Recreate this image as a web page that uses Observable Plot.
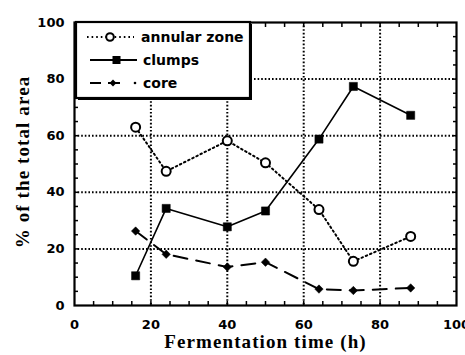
<!DOCTYPE html>
<html>
<head>
<meta charset="utf-8">
<script src="https://cdn.jsdelivr.net/npm/d3@7"></script>
<script src="https://cdn.jsdelivr.net/npm/@observablehq/plot@0.6"></script>
<style>
  body { margin: 0; background: white; }
  #wrap { position: relative; width: 465px; height: 355px; }
  #legend { position: absolute; left: 0; top: 0; }
  .axtitle text { letter-spacing: 1.1px; }
</style>
</head>
<body>
<div id="wrap"></div>
<script>
// ---- data ----
const hours   = [16, 24, 40, 50, 64, 73, 88];
const annular = [63, 47.4, 58.2, 50.4, 33.9, 15.6, 24.4];
const clumps  = [10.5, 34.3, 27.8, 33.4, 58.8, 77.4, 67.2];
const core    = [26.3, 18.1, 13.6, 15.3, 5.8, 5.3, 6.2];
const seriesNames = ["annular zone", "clumps", "core"];
const majorTicks = [0, 20, 40, 60, 80, 100];
const gridTicks = [20, 40, 60, 80];
const minorTicks = d3.range(5, 100, 5);
const xTitle = "Fermentation time (h)";
const yTitle = "% of the total area";

const rows = (vals) => hours.map((h, i) => ({h, v: vals[i]}));
const A = rows(annular), C = rows(clumps), K = rows(core);

const tickFont = "DejaVu Sans";
const titleFont = "Liberation Serif";
const blank = () => "";

const chart = Plot.plot({
  width: 465, height: 355,
  marginLeft: 74, marginRight: 9, marginTop: 22, marginBottom: 50,
  x: {domain: [0, 100]},
  y: {domain: [0, 100]},
  style: {background: "white", color: "black", overflow: "visible"},
  marks: [
    Plot.ruleX(gridTicks, {stroke: "black", strokeWidth: 2, strokeDasharray: "1.6,2"}),
    Plot.ruleY(gridTicks, {stroke: "black", strokeWidth: 2, strokeDasharray: "1.6,2"}),
    Plot.axisX(minorTicks, {anchor: "bottom", tickSize: -4, tickFormat: blank, label: null, strokeWidth: 1.5}),
    Plot.axisX(minorTicks, {anchor: "top", tickSize: -4, tickFormat: blank, label: null, strokeWidth: 1.5}),
    Plot.axisY(minorTicks, {anchor: "left", tickSize: -4, tickFormat: blank, label: null, strokeWidth: 1.5}),
    Plot.axisY(minorTicks, {anchor: "right", tickSize: -4, tickFormat: blank, label: null, strokeWidth: 1.5}),
    Plot.axisX(majorTicks, {anchor: "bottom", tickSize: 0, tickPadding: 14, label: null,
      fontSize: 13, fontWeight: "bold", fontFamily: tickFont}),
    Plot.axisY(majorTicks, {anchor: "left", tickSize: 0, tickPadding: 10, label: null,
      fontSize: 13, fontWeight: "bold", fontFamily: tickFont}),
    Plot.frame({stroke: "black", strokeWidth: 2.2}),
    Plot.text([xTitle], {frameAnchor: "bottom", dy: 42, textAnchor: "middle", fontSize: 19, fontWeight: "bold", fontFamily: titleFont, className: "axtitle"}),
    Plot.text([yTitle], {frameAnchor: "left", rotate: -90, textAnchor: "middle", dx: -52, dy: -2, fontSize: 19, fontWeight: "bold", fontFamily: titleFont, className: "axtitle"}),
    // annular zone
    Plot.line(A, {x: "h", y: "v", stroke: "black", strokeWidth: 2, strokeDasharray: "1.6,3"}),
    Plot.dot(A, {x: "h", y: "v", r: 4.5, fill: "white", stroke: "black", strokeWidth: 2}),
    // clumps
    Plot.line(C, {x: "h", y: "v", stroke: "black", strokeWidth: 1.6}),
    Plot.dot(C, {x: "h", y: "v", symbol: "square", r: 4.6, fill: "black", stroke: "black", strokeWidth: 0.5}),
    // core
    Plot.line(K, {x: "h", y: "v", stroke: "black", strokeWidth: 2, strokeDasharray: "14,9"}),
    Plot.dot(K, {x: "h", y: "v", symbol: "diamond2", r: 3.8, fill: "black", stroke: "black", strokeWidth: 0.5})
  ]
});

const wrap = document.getElementById("wrap");
wrap.appendChild(chart);

// ---- legend overlay ----
const ls = d3.create("svg").attr("id", "legend").attr("width", 465).attr("height", 110)
  .style("position", "absolute").style("left", "0px").style("top", "0px");
ls.append("rect").attr("x", 78).attr("y", 24).attr("width", 174).attr("height", 76).attr("fill", "black");
ls.append("rect").attr("x", 76).attr("y", 22).attr("width", 174).attr("height", 76)
  .attr("fill", "white").attr("stroke", "black").attr("stroke-width", 2.2);
const rowY = [37, 60, 83];
const g = ls.append("g");
// annular
g.append("line").attr("x1", 87).attr("x2", 134).attr("y1", rowY[0]).attr("y2", rowY[0])
  .attr("stroke", "black").attr("stroke-width", 2).attr("stroke-dasharray", "1.6,3");
g.append("circle").attr("cx", 110).attr("cy", rowY[0]).attr("r", 3.8).attr("fill", "white")
  .attr("stroke", "black").attr("stroke-width", 2);
// clumps
g.append("line").attr("x1", 90).attr("x2", 137).attr("y1", rowY[1]).attr("y2", rowY[1])
  .attr("stroke", "black").attr("stroke-width", 2);
g.append("rect").attr("x", 112.5).attr("y", rowY[1] - 4).attr("width", 8).attr("height", 8).attr("fill", "black");
// core
g.append("line").attr("x1", 90).attr("x2", 101).attr("y1", rowY[2]).attr("y2", rowY[2])
  .attr("stroke", "black").attr("stroke-width", 2);
g.append("line").attr("x1", 108).attr("x2", 120).attr("y1", rowY[2]).attr("y2", rowY[2])
  .attr("stroke", "black").attr("stroke-width", 2);
g.append("path").attr("d", d3.symbol(d3.symbolDiamond2, 30)()).attr("transform", `translate(113,${rowY[2]})`).attr("fill", "black");
g.append("circle").attr("cx", 135).attr("cy", rowY[2]).attr("r", 1.3).attr("fill", "black");
seriesNames.forEach((name, i) => {
  g.append("text").attr("x", i === 0 ? 141 : 143).attr("y", rowY[i]).attr("dy", "0.35em")
    .attr("font-family", "DejaVu Sans").attr("font-weight", "bold").attr("font-size", 14)
    .text(name);
});
wrap.appendChild(ls.node());
</script>
</body>
</html>
